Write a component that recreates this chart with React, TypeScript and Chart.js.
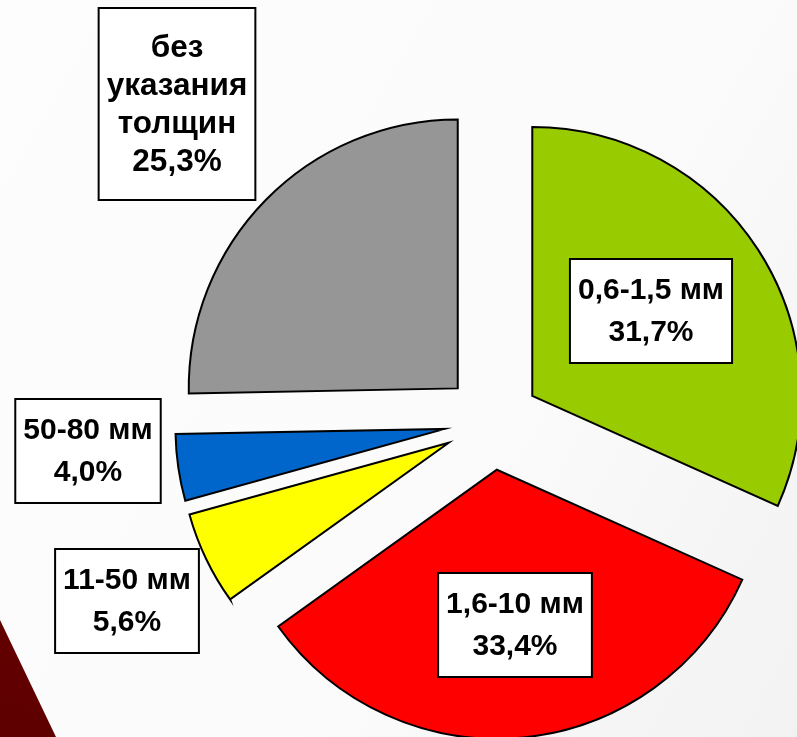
import React, { useEffect, useRef } from "react";
import { Chart, registerables } from "chart.js";

Chart.register(...registerables);

// ---- data ----
const categories = ["0,6-1,5 мм", "1,6-10 мм", "11-50 мм", "50-80 мм", "без указания толщин"];
const labelLines = [["0,6-1,5 мм"], ["1,6-10 мм"], ["11-50 мм"], ["50-80 мм"], ["без", "указания", "толщин"]];
const shares = [31.7, 33.4, 5.6, 4.0, 25.3];
const colors = ["#99cc00", "#ff0000", "#ffff00", "#0066cc", "#969696"];

// ---- layout ----
const W = 797;
const H = 737;
const PIE_RADIUS = 269;
const EXPLODE = 48;
const labelFontSizes = [30, 30, 30, 30, 31.5];
// label box centres relative to pie centre
const labelOffsets = [
  [159, -111],
  [23, 203],
  [-365, 179],
  [-404, 29],
  [-315, -318],
];
const labelBoxHeights = [104, 104, 104, 104, 192];
const labelLineHeights = [42, 42, 42, 42, 38];

const fmt = (v: number) => v.toFixed(1).replace(".", ",") + "%";

const explodePlugin = {
  id: "explode",
  afterDatasetUpdate(chart: any, args: any) {
    const meta = chart.getDatasetMeta(args.index);
    meta.data.forEach((arc: any) => {
      const mid = (arc.startAngle + arc.endAngle) / 2;
      arc.x += Math.cos(mid) * EXPLODE;
      arc.y += Math.sin(mid) * EXPLODE;
    });
  },
};

const boxLabelPlugin = {
  id: "boxLabels",
  afterDatasetsDraw(chart: any) {
    const ctx = chart.ctx as CanvasRenderingContext2D;
    const { left, right, top, bottom } = chart.chartArea;
    const cx = (left + right) / 2;
    const cy = (top + bottom) / 2;
    ctx.save();
    ctx.textAlign = "center";
    ctx.textBaseline = "middle";
    categories.forEach((_c, i) => {
      ctx.font = `bold ${labelFontSizes[i]}px "Liberation Sans", Arial, sans-serif`;
      const lines = [...labelLines[i], fmt(shares[i])];
      const lh = labelLineHeights[i];
      const w = Math.max(...lines.map((l) => ctx.measureText(l).width)) + 16;
      const h = labelBoxHeights[i];
      const x = cx + labelOffsets[i][0];
      const y = cy + labelOffsets[i][1];
      ctx.fillStyle = "#ffffff";
      ctx.fillRect(x - w / 2, y - h / 2, w, h);
      ctx.lineWidth = 2;
      ctx.strokeStyle = "#000000";
      ctx.strokeRect(x - w / 2, y - h / 2, w, h);
      ctx.fillStyle = "#000000";
      lines.forEach((l, j) => {
        ctx.fillText(l, x, y + (j - (lines.length - 1) / 2) * lh + 1);
      });
    });
    ctx.restore();
  },
};

function PieChart() {
  const ref = useRef<HTMLCanvasElement | null>(null);
  useEffect(() => {
    if (!ref.current) return;
    const chart = new Chart(ref.current, {
      type: "pie",
      data: {
        labels: categories,
        datasets: [
          {
            data: shares,
            backgroundColor: colors,
            borderColor: "#000000",
            borderWidth: 2,
            borderJoinStyle: "miter",
          } as any,
        ],
      },
      options: {
        responsive: false,
        animation: false,
        events: [],
        radius: PIE_RADIUS,
        layout: { padding: { left: 187, top: 107, right: 0, bottom: 0 } },
        plugins: {
          legend: { display: false },
          tooltip: { enabled: false },
        },
      } as any,
      plugins: [explodePlugin, boxLabelPlugin],
    });
    return () => chart.destroy();
  }, []);
  return <canvas ref={ref} width={W} height={H} style={{ position: "absolute", left: 0, top: 0 }} />;
}

export default function App() {
  return (
    <div
      style={{
        position: "fixed",
        left: 0,
        top: 0,
        width: W,
        height: H,
        overflow: "hidden",
        background: "linear-gradient(120deg, #fdfdfd 0%, #fbfbfb 60%, #f2f2f2 100%)",
      }}
    >
      <div
        style={{
          position: "absolute",
          left: 0,
          top: 0,
          width: W,
          height: H,
          background: "linear-gradient(200deg, #8a0000 0%, #5e0000 100%)",
          clipPath: "polygon(0px 620px, 56px 737px, 0px 737px)",
        }}
      />
      <PieChart />
    </div>
  );
}
